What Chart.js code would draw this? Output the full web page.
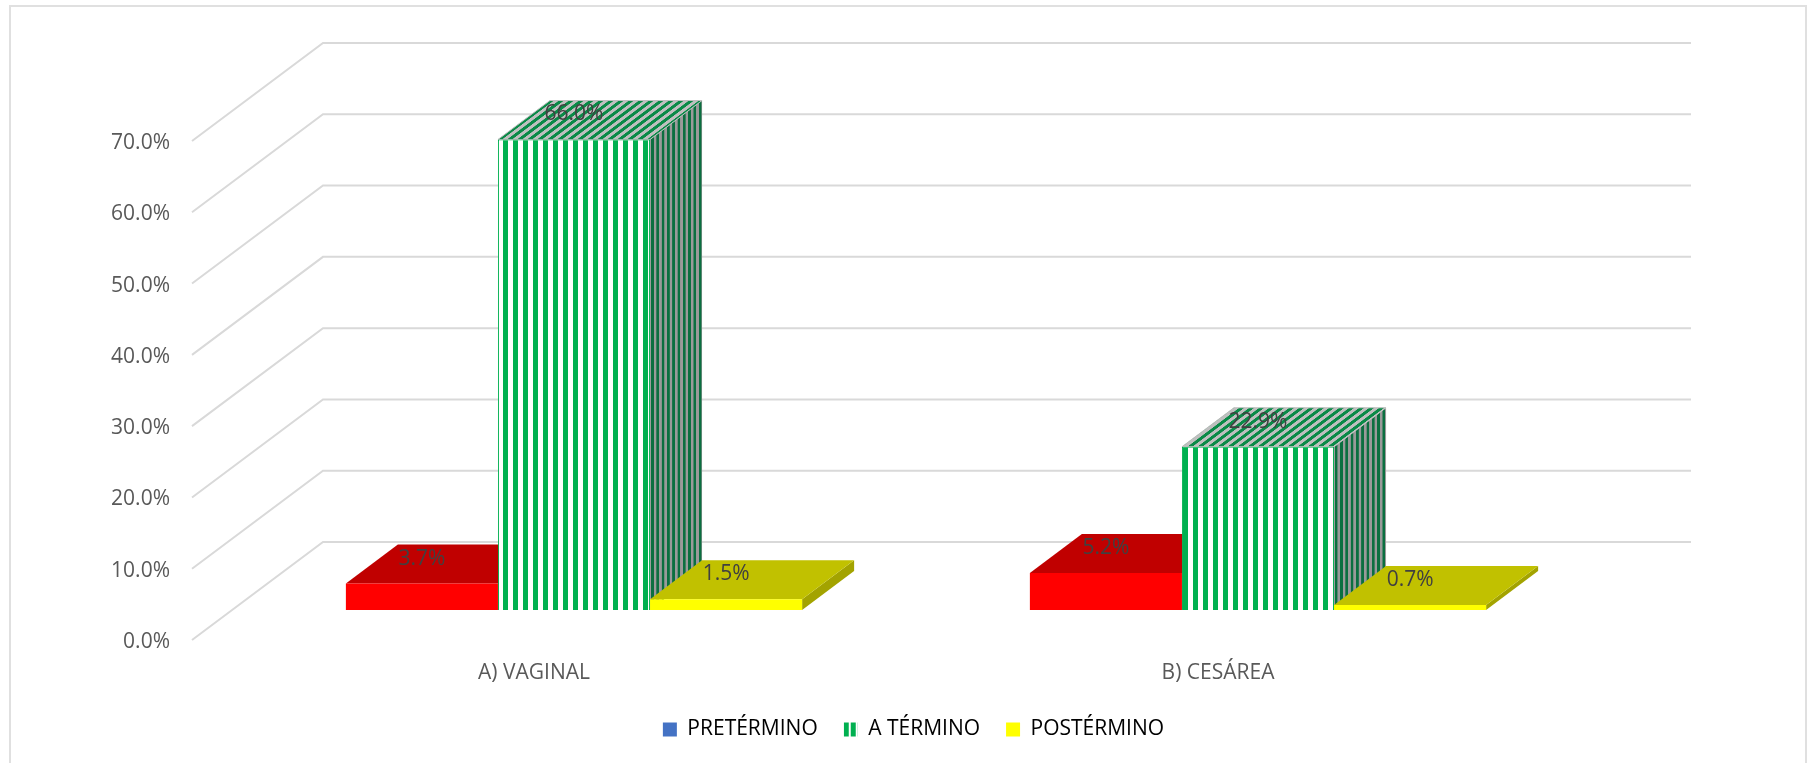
<!DOCTYPE html>
<html>
<head>
<meta charset="utf-8">
<title>Chart</title>
<script src="https://cdn.jsdelivr.net/npm/chart.js@4"></script>
<style>
    html, body { margin: 0; padding: 0; background: #fff; overflow: hidden; }
    canvas { display: block; }
</style>
</head>
<body>
<canvas id="chart" width="1807" height="763"></canvas>
<script>
const categories = ["A) VAGINAL", "B) CESÁREA"];
const seriesNames = ["PRETÉRMINO", "A TÉRMINO", "POSTÉRMINO"];
const pretermino = [3.7, 5.2];
const atermino = [66.0, 22.9];
const postermino = [1.5, 0.7];
const yTickLabels = ["0.0%", "10.0%", "20.0%", "30.0%", "40.0%", "50.0%", "60.0%", "70.0%"];

const FONT = "'Open Sans', sans-serif";
const GRID = "#d9d9d9";
// floor depth of the fake 3D box and of the bars
const WALL = {x: 131, y: -98};
const SHIFT = {x: 40, y: -30};
const DEPTH = {x: 52, y: -39};

function stripes(w, runs, bg){
    const c = document.createElement("canvas");
    c.width = w;
    c.height = 4;
    const g = c.getContext("2d");
    g.fillStyle = bg;
    g.fillRect(0, 0, w, 4);
    runs.forEach(function(r){
        g.fillStyle = r[2];
        g.fillRect(r[0], 0, r[1], 4);
    });
    return g.createPattern(c, "repeat");
}

const greenFront = stripes(10, [[3, 5, "#00b050"]], "#ffffff");
const greenTop = stripes(10, [[3, 5, "#0a8a47"]], "#bfbfbf");
greenTop.setTransform(new DOMMatrix([1, 0, -DEPTH.x / DEPTH.y * -1, 1, 0, 0]));
const greenSide = stripes(10, [[3, 5, "#0b6f40"]], "#9a9a9a");
greenSide.setTransform(new DOMMatrix([0.53, 0, 0, 1, 0, 0]));
const greenLegend = stripes(14, [[0, 5, "#00b050"], [7, 5, "#00b050"]], "#ffffff");

const swatches = ["#4472c4", greenLegend, "#ffff00"];
const faces = [
    {top: "#c00000", side: "#900000"},
    {top: greenTop, side: greenSide, edge: "#bfbfbf"},
    {top: "#c1c100", side: "#a3a300"}
];

function poly(ctx, pts, fill, edge){
    ctx.beginPath();
    pts.forEach(function(p, i){
        if(i === 0) ctx.moveTo(p[0], p[1]);
        else ctx.lineTo(p[0], p[1]);
    });
    ctx.closePath();
    ctx.fillStyle = fill;
    ctx.fill();
    if(edge){
        ctx.strokeStyle = edge;
        ctx.lineWidth = 1;
        ctx.stroke();
    }
}

const walls = {
    id: "walls",
    beforeDraw(chart){
        // the legend stripes start at the left edge of their box
        const box = chart.legend.legendHitBoxes[1];
        greenLegend.setTransform(new DOMMatrix([1, 0, 0, 1, box.left, 0]));

        // outer frame, no bottom edge in the reference
        const ctx = chart.ctx;
        ctx.save();
        ctx.strokeStyle = "#e0e0e0";
        ctx.lineWidth = 2;
        ctx.beginPath();
        ctx.moveTo(10, 763);
        ctx.lineTo(10, 6);
        ctx.lineTo(1806, 6);
        ctx.lineTo(1806, 763);
        ctx.stroke();
        ctx.restore();
    },
    beforeDatasetsDraw(chart){
        const ctx = chart.ctx;
        const y = chart.scales.y;
        const area = chart.chartArea;
        ctx.save();
        ctx.strokeStyle = GRID;
        ctx.lineWidth = 2;
        y.ticks.forEach(function(t){
            const py = y.getPixelForValue(t.value);
            ctx.beginPath();
            ctx.moveTo(area.left, py);
            ctx.lineTo(area.left + WALL.x, py + WALL.y);
            ctx.lineTo(area.right + WALL.x, py + WALL.y);
            ctx.stroke();
        });
        ctx.restore();
    },
    // the library paints the last series first, here it has to be left to right
    beforeDatasetDraw(){
        return false;
    },
    afterDatasetsDraw(chart){
        const ctx = chart.ctx;
        chart.data.datasets.forEach(function(ds, i){
            const meta = chart.getDatasetMeta(i);
            const f = faces[i];
            ctx.save();
            ctx.translate(SHIFT.x, SHIFT.y);
            meta.data.forEach(function(bar){
                const l = bar.x - bar.width / 2;
                const r = bar.x + bar.width / 2;
                const d = DEPTH;
                poly(ctx, [[r, bar.y], [r + d.x, bar.y + d.y], [r + d.x, bar.base + d.y], [r, bar.base]], f.side);
                poly(ctx, [[l, bar.y], [l + d.x, bar.y + d.y], [r + d.x, bar.y + d.y], [r, bar.y]], f.top, f.edge);
            });
            meta.controller.draw();
            ctx.restore();
        });
        ctx.save();
        ctx.font = "21px " + FONT;
        ctx.fillStyle = "#404040";
        ctx.textAlign = "center";
        ctx.textBaseline = "middle";
        chart.data.datasets.forEach(function(ds, i){
            chart.getDatasetMeta(i).data.forEach(function(bar, j){
                ctx.fillText(ds.data[j].toFixed(1) + "%", bar.x + SHIFT.x, bar.y + SHIFT.y - 25);
            });
        });
        ctx.restore();
    }
};

new Chart(document.getElementById("chart"), {
    type: "bar",
    plugins: [walls],
    data: {
        labels: categories,
        datasets: [
            {label: seriesNames[0], data: pretermino, backgroundColor: "#ff0000"},
            {label: seriesNames[1], data: atermino, backgroundColor: greenFront, borderColor: "#00b050", borderWidth: 1},
            {label: seriesNames[2], data: postermino, backgroundColor: "#ffff00"}
        ]
    },
    options: {
        responsive: false,
        animation: false,
        devicePixelRatio: 1,
        categoryPercentage: 0.667,
        barPercentage: 1,
        clip: false,
        layout: {padding: {left: 30, right: 10, top: 141, bottom: 13}},
        scales: {
            x: {
                grid: {display: false},
                border: {display: false},
                ticks: {color: "#595959", font: {family: FONT, size: 21}, padding: 12, maxRotation: 0},
                afterFit(s){ s.height = 53; }
            },
            y: {
                min: 0,
                max: 70,
                grid: {display: false, drawTicks: false},
                border: {display: false},
                ticks: {
                    stepSize: 10,
                    color: "#595959",
                    font: {family: FONT, size: 21},
                    padding: 22,
                    labelOffset: 2,
                    callback(v, i){ return yTickLabels[i]; }
                },
                afterFit(s){ s.width = 162; }
            },
            // room on the right for the depth of the box
            room: {
                position: "right",
                grid: {display: false},
                border: {display: false},
                ticks: {display: false},
                afterFit(s){ s.width = 237; }
            }
        },
        plugins: {
            tooltip: {enabled: false},
            legend: {
                position: "bottom",
                labels: {
                    boxWidth: 14,
                    boxHeight: 14,
                    padding: 26,
                    color: "#595959",
                    font: {family: FONT, size: 21},
                    generateLabels(){
                        return seriesNames.map(function(name, i){
                            return {text: name, fillStyle: swatches[i], lineWidth: 0, hidden: false, datasetIndex: i};
                        });
                    }
                }
            }
        }
    }
});
</script>
</body>
</html>
